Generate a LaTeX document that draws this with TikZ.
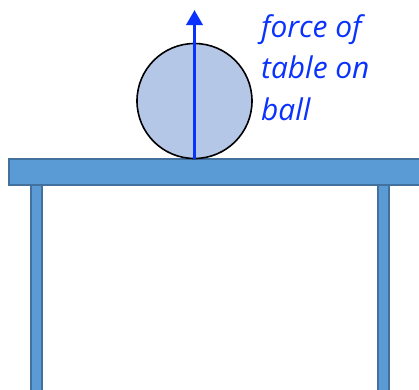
\documentclass[tikz,border=0pt]{standalone}
\usepackage{fontspec}
\setmainfont{Open Sans}
\usetikzlibrary{arrows.meta}
\definecolor{topblue}{HTML}{5B9BD5}
\definecolor{edgeblue}{HTML}{41719C}
\definecolor{ballblue}{HTML}{B4C7E7}
\definecolor{forceblue}{HTML}{0A32FF}
\begin{document}
\begin{tikzpicture}[
  x=1bp, y=-1bp,
  % Table styles
  tabletop/.style={rectangle, draw=edgeblue, fill=topblue, line width=1.5bp,
    anchor=north west, inner sep=0pt},
  tableleg/.style={rectangle, draw=edgeblue, fill=topblue, line width=1.5bp,
    anchor=north west, inner sep=0pt, minimum width=11bp, minimum height=220bp},
  % Ball style
  ball/.style={circle, draw=black, fill=ballblue, line width=1.6bp,
    minimum size=115bp, inner sep=0pt},
  % Force arrow and label
  force/.style={-{Triangle[length=15bp, width=16bp]}, draw=forceblue, fill=forceblue,
    line width=3.5bp},
  label/.style={font=\fontsize{30}{42}\selectfont\itshape, text=forceblue,
    align=left, anchor=north west, inner sep=0pt},
]

\useasboundingbox (0,0) rectangle (419,390);

% --- Table ---
\node[tableleg] (legl) at (30,180) {};
\node[tableleg] (legr) at (377,180) {};
\node[tabletop, minimum width=430bp, minimum height=26bp] (top) at (8,158) {};

% --- Ball on top ---
\node[ball] (ball) at (194.5,101) {};

% --- Force of table on ball ---
\coordinate (tip) at (194.5,10);
\draw[force] (ball.south) -- (tip);
\node[label] (lbl) at (261,14) {force of\\table on\\ball};

\end{tikzpicture}
\end{document}
